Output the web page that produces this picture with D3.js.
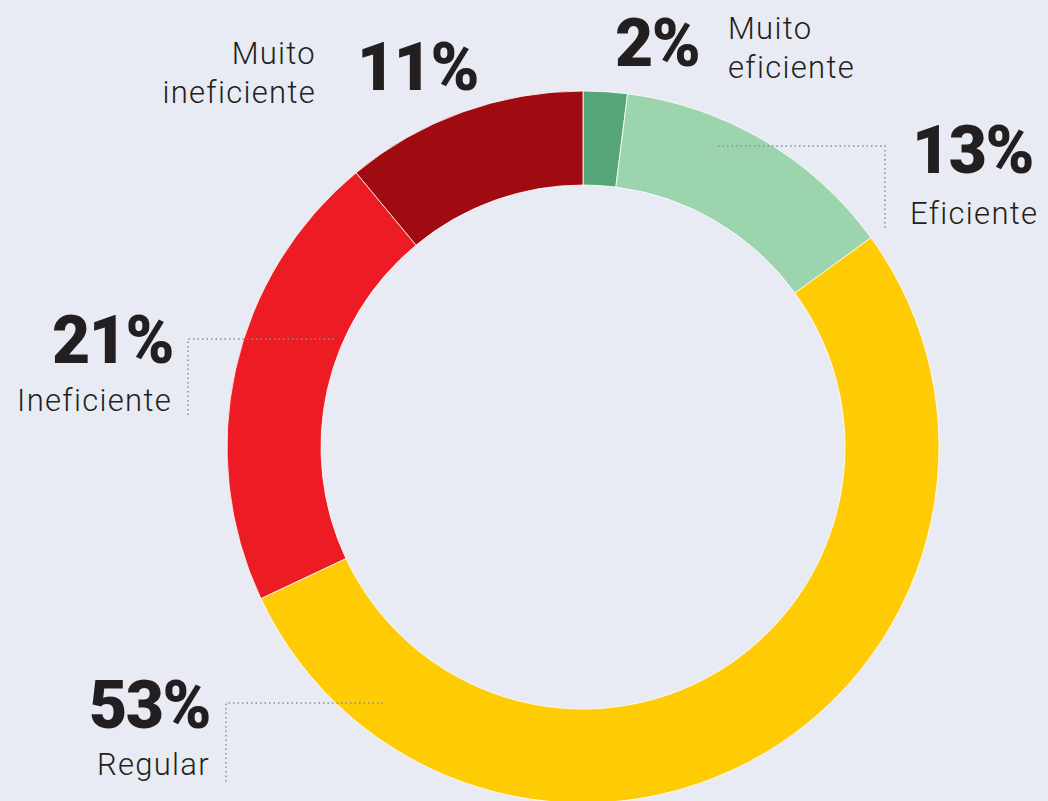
<!DOCTYPE html>
<html>
<head>
<meta charset="utf-8">
<script src="https://cdn.jsdelivr.net/npm/d3@7"></script>
<style>
  body { margin: 0; background: #e8ebf3; }
  svg { display: block; }
  .pct { font-family: Roboto, 'Noto Sans', sans-serif; font-weight: 900; fill: #231f20; letter-spacing: -1.5px; }
  .lbl { font-family: Roboto, 'Noto Sans', sans-serif; font-weight: 300; fill: #231f20; letter-spacing: 1.3px; }
</style>
</head>
<body>
<script>
// data
var categories = ['Muito eficiente', 'Eficiente', 'Regular', 'Ineficiente', 'Muito ineficiente']
var values = [2, 13, 53, 21, 11]
var colors = ['#56a579', '#9cd4ae', '#fecb05', '#ed1c24', '#a00a11']
var labelLines = [['Muito', 'eficiente'], ['Eficiente'], ['Regular'], ['Ineficiente'], ['Muito', 'ineficiente']]

var w = 1048, h = 801
var cx = 583, cy = 447
var outerR = 356, innerR = 262

var svg = d3.select('body').append('svg')
  .attr('width', w)
  .attr('height', h)

var g = svg.append('g')
  .attr('transform', 'translate(' + cx + ',' + cy + ')')

var pie = d3.pie().sort(null).value(function (d) { return d })
var arc = d3.arc().innerRadius(innerR).outerRadius(outerR)

g.selectAll('path')
  .data(pie(values))
  .enter()
  .append('path')
  .attr('d', arc)
  .attr('fill', function (d, i) { return colors[i] })
  .attr('stroke', '#ffffff')
  .attr('stroke-width', 0.8)

// label layout (absolute page coords)
// pct: number position + anchor; lbl: first line position; leader: dotted elbow from the ring
var layout = [
  { px: 615, py: 66, anchor: 'start', lx: 728, ly: 39, lanchor: 'start', leader: null },
  { px: 912, py: 173, anchor: 'start', lx: 910, ly: 224, lanchor: 'start', leader: { cornerX: 885, y: 146, arcX: 718, endY: 231 } },
  { px: 210, py: 728, anchor: 'end', lx: 210, ly: 775, lanchor: 'end', leader: { cornerX: 226, y: 703, arcX: 383, endY: 782 } },
  { px: 173, py: 363, anchor: 'end', lx: 172, ly: 411, lanchor: 'end', leader: { cornerX: 188, y: 339, arcX: 334, endY: 418 } },
  { px: 357, py: 90, anchor: 'start', lx: 316, ly: 64, lanchor: 'end', leader: null }
]

var lineGap = 39

var leaders = svg.append('g')
layout.forEach(function (l) {
  if (!l.leader) return
  var p = d3.path()
  p.moveTo(l.leader.arcX, l.leader.y)
  p.lineTo(l.leader.cornerX, l.leader.y)
  p.lineTo(l.leader.cornerX, l.leader.endY)
  leaders.append('path')
    .attr('d', p.toString())
    .attr('fill', 'none')
    .attr('stroke', '#8a8d93')
    .attr('stroke-width', 1.5)
    .attr('stroke-dasharray', '1.5,3')
})

var labels = svg.append('g')
values.forEach(function (v, i) {
  var l = layout[i]
  labels.append('text')
    .attr('class', 'pct')
    .attr('x', l.px)
    .attr('y', l.py)
    .attr('text-anchor', l.anchor)
    .style('font-size', '66px')
    .text(v + '%')
  labelLines[i].forEach(function (t, j) {
    labels.append('text')
      .attr('class', 'lbl')
      .attr('x', l.lx)
      .attr('y', l.ly + j * lineGap)
      .attr('text-anchor', l.lanchor)
      .style('font-size', '31px')
      .text(t)
  })
})
</script>
</body>
</html>
